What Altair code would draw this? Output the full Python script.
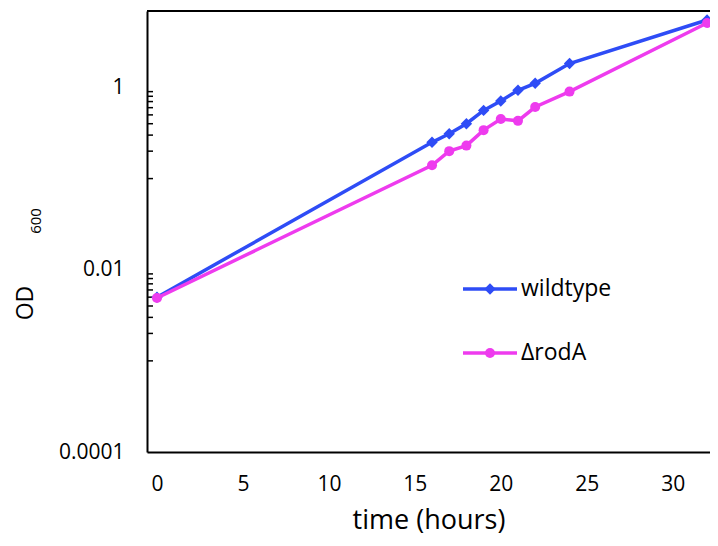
import altair as alt
import pandas as pd

# ---- data ----
hours = [0, 16, 17, 18, 19, 20, 21, 22, 24, 32]
wildtype = [0.0050, 0.25, 0.31, 0.40, 0.56, 0.71, 0.93, 1.11, 1.83, 5.5]
rodA = [0.0049, 0.14, 0.20, 0.23, 0.34, 0.45, 0.43, 0.61, 0.90, 5.1]

series_names = ["wildtype", "ΔrodA"]
series_colors = ["#2E4CF6", "#EE3BEE"]
series_shapes = ["diamond", "circle"]

x_ticks = [0, 5, 10, 15, 20, 25, 30]
y_ticks = [0.0001, 0.01, 1]
minor_ticks = [0.001, 0.002, 0.003, 0.004, 0.005, 0.006, 0.007, 0.008, 0.009,
               0.1, 0.2, 0.3, 0.4, 0.5, 0.6, 0.7, 0.8, 0.9]

W, H = 563, 441
FONT = "Open Sans"
SIZES = {"diamond": 130, "circle": 100}

df = pd.DataFrame({
    "hours": hours + hours,
    "od": wildtype + rodA,
    "strain": [series_names[0]] * len(hours) + [series_names[1]] * len(hours),
})

x_scale = alt.Scale(domain=[-0.58, 32.17], nice=False, zero=False)
y_scale = alt.Scale(type="log", domain=[0.0001, 6.9], nice=False)

x_axis = alt.Axis(values=x_ticks, title="time (hours)", ticks=False,
                  grid=False, labelPadding=21, titlePadding=13,
                  labelFontSize=21, titleFontSize=27,
                  labelFont=FONT, titleFont=FONT,
                  titleFontWeight="normal", labelColor="black",
                  titleColor="black", domainColor="black",
                  domainWidth=2, labelFlush=False)
y_axis = alt.Axis(values=y_ticks, format=".4~f", title=None,
                  ticks=False, grid=False, labelPadding=23,
                  labelFontSize=21, labelFont=FONT,
                  labelColor="black", domainColor="black",
                  domainWidth=2, labelFlush=False)

x_enc = alt.X("hours:Q", scale=x_scale, axis=x_axis)
y_enc = alt.Y("od:Q", scale=y_scale, axis=y_axis)

base = alt.Chart(df)
layers = []

# minor ticks (inside the plot)
layers.append(
    alt.Chart(pd.DataFrame({"od": minor_ticks})).mark_rule(color="black", strokeWidth=1.5).encode(
        y=y_enc, x=alt.value(0), x2=alt.value(6),
    )
)

# top border
layers.append(
    alt.Chart(pd.DataFrame({"a": [0]})).mark_rule(color="black", strokeWidth=2).encode(
        x=alt.value(0), x2=alt.value(W), y=alt.value(0)
    )
)

for name, col, shp in zip(series_names, series_colors, series_shapes):
    sub = base.transform_filter(alt.datum.strain == name)
    layers.append(sub.mark_line(color=col, strokeWidth=3.5).encode(x=x_enc, y=y_enc))
    layers.append(sub.mark_point(shape=shp, filled=True, color=col, opacity=1,
                                 size=SIZES[shp]).encode(x=x_enc, y=y_enc))

# legend (drawn inside the plot)
legend_y = [278, 342]
for name, col, shp, ly in zip(series_names, series_colors, series_shapes, legend_y):
    lc = alt.Chart(pd.DataFrame({"label": [name]}))
    layers.append(lc.mark_rule(color=col, strokeWidth=3.5).encode(
        x=alt.value(316), x2=alt.value(370), y=alt.value(ly)))
    layers.append(lc.mark_point(shape=shp, filled=True, color=col, opacity=1,
                                size=SIZES[shp]).encode(
        x=alt.value(343), y=alt.value(ly)))
    layers.append(lc.mark_text(align="left", baseline="middle", font=FONT,
                               fontSize=23, color="black").encode(
        x=alt.value(374), y=alt.value(ly), text="label:N"))

# y-axis title OD with subscript 600
layers.append(alt.Chart(pd.DataFrame({"t": ["OD"]})).mark_text(
    angle=270, align="center", baseline="alphabetic", font=FONT, fontSize=23,
    color="black").encode(x=alt.value(-114), y=alt.value(292), text="t:N"))
layers.append(alt.Chart(pd.DataFrame({"t": ["600"]})).mark_text(
    angle=270, align="center", baseline="alphabetic", font=FONT, fontSize=15,
    color="black").encode(x=alt.value(-106), y=alt.value(210), text="t:N"))

chart = alt.layer(*layers).properties(
    width=W, height=H,
    autosize=alt.AutoSizeParams(type="none"),
    padding={"left": 139, "top": 3, "right": 0, "bottom": 86},
).configure_view(stroke=None)

chart.save("out.html", embed_options={"renderer": "svg", "actions": False})
